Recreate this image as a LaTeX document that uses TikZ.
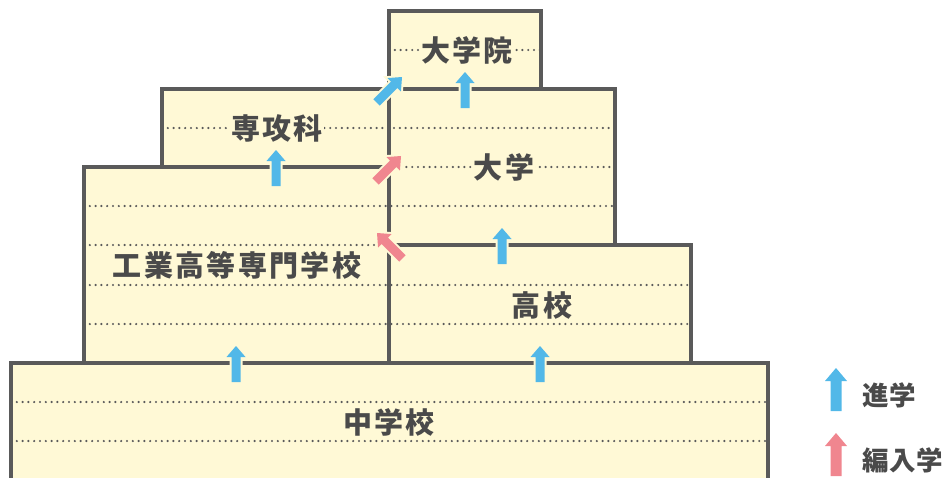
\documentclass[tikz,border=0pt]{standalone}
\usepackage{fontspec}
\newfontfamily\jp[LetterSpace=8]{Noto Sans CJK JP}
\newfontfamily\jpl[LetterSpace=3]{Noto Sans CJK JP}
\definecolor{cream}{HTML}{FFF9D6}
\definecolor{edge}{HTML}{5A5A5A}
\definecolor{txt}{HTML}{4A4A4A}
\definecolor{upblue}{HTML}{52B8E8}
\definecolor{uppink}{HTML}{F0868F}
\tikzset{
  boxfill/.style={fill=cream},
  boxedge/.style={draw=edge,line width=3.5pt,line join=miter},
  dotline/.style={draw=edge,line width=2.4pt,line cap=round,dash pattern=on 0pt off 5.8pt},
  label/.style={fill=cream,inner sep=1pt,text=txt,font=\jp\bfseries\fontsize{29}{29}\selectfont},
  legendtext/.style={inner sep=0pt,text=txt,anchor=west,font=\jpl\bfseries\fontsize{26.5}{26.5}\selectfont},
  arrowfill/.style={fill=#1,preaction={draw=cream,line width=4pt,line join=miter}},
}
% small block arrow: tip at #1, rotation #2, colour #3
\newcommand\smallarrow[3]{%
  \begin{scope}[shift={#1},rotate=#2]
    \path[arrowfill=#3] (0,0) -- (9.5,11) -- (4.5,11) -- (4.5,36) -- (-4.5,36) -- (-4.5,11) -- (-9.5,11) -- cycle;
  \end{scope}}
\newcommand\bigarrow[2]{%
  \begin{scope}[shift={#1}]
    \path[fill=#2] (0,0) -- (11,13) -- (5.5,13) -- (5.5,43) -- (-5.5,43) -- (-5.5,13) -- (-11,13) -- cycle;
  \end{scope}}
\begin{document}
\begin{tikzpicture}[x=1pt,y=-1pt]
\useasboundingbox (0,0) rectangle (947,477);
% fills
\path[boxfill] (11,363) rectangle (768,500);
\path[boxfill] (84,167) rectangle (389,363);
\path[boxfill] (389,245) rectangle (691,363);
\path[boxfill] (162,89) rectangle (389,167);
\path[boxfill] (389,89) rectangle (615,245);
\path[boxfill] (389,11) rectangle (541,89);
% dotted rules
\path[dotline] (389,50) -- (541,50);
\path[dotline] (162,128) -- (615,128);
\path[dotline] (389,167) -- (615,167);
\path[dotline] (84,206) -- (615,206);
\path[dotline] (84,245) -- (389,245);
\path[dotline] (84,285) -- (691,285);
\path[dotline] (84,324) -- (691,324);
\path[dotline] (11,402) -- (768,402);
\path[dotline] (11,441) -- (768,441);
% outlines
\path[boxedge] (11,500) -- (11,363) -- (768,363) -- (768,500);
\path[boxedge] (84,363) -- (84,167) -- (389,167);
\path[boxedge] (389,363) -- (389,11) -- (541,11) -- (541,89);
\path[boxedge] (162,167) -- (162,89) -- (615,89) -- (615,245);
\path[boxedge] (389,245) -- (691,245) -- (691,363);
% labels
\node[label] (daigakuin) at (467,50) {大学院};
\node[label] (senkoka) at (277,128) {専攻科};
\node[label] (daigaku) at (504,167) {大学};
\node[label] (kosen) at (237,265) {工業高等専門学校};
\node[label] (koko) at (542,305) {高校};
\node[label] (chugakko) at (389,422) {中学校};
% arrows
\smallarrow{(236,346)}{0}{upblue}
\smallarrow{(540,346)}{0}{upblue}
\smallarrow{(502,228)}{0}{upblue}
\smallarrow{(276,150)}{0}{upblue}
\smallarrow{(465,72)}{0}{upblue}
\smallarrow{(402,77)}{-45}{upblue}
\smallarrow{(401,156)}{-45}{uppink}
\smallarrow{(377,233)}{45}{uppink}
% legend
\bigarrow{(836,368)}{upblue}
\bigarrow{(836,433)}{uppink}
\node[legendtext] (shingaku) at (862,395) {進学};
\node[legendtext] (hennyu) at (862,460) {編入学};
\end{tikzpicture}
\end{document}
